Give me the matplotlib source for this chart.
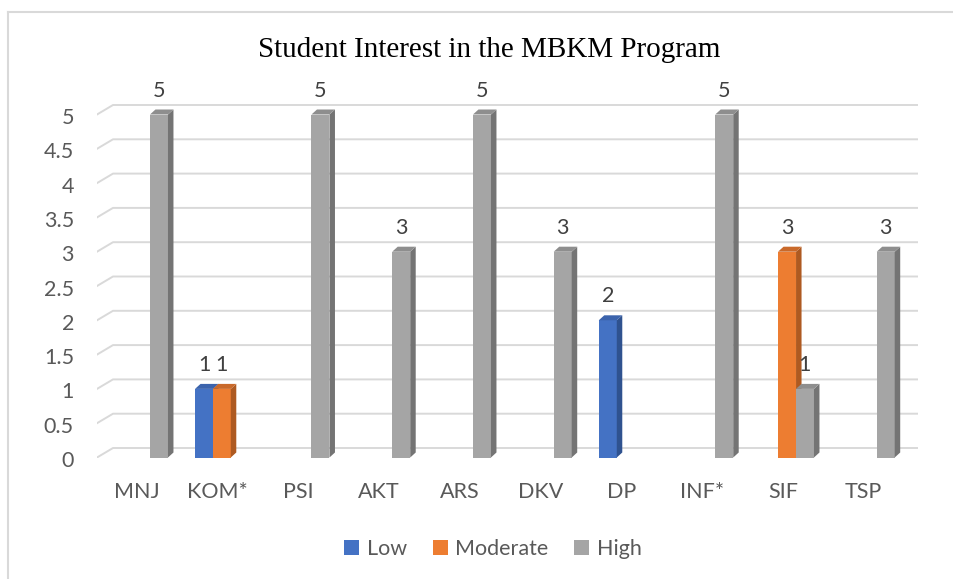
import matplotlib
matplotlib.use("Agg")
import matplotlib.pyplot as plt
import matplotlib.transforms as mtransforms
from matplotlib.patches import Rectangle, Polygon, Patch
from matplotlib.lines import Line2D

# ---- data ----
categories = ['MNJ', 'KOM*', 'PSI', 'AKT', 'ARS', 'DKV', 'DP', 'INF*', 'SIF', 'TSP']
low = [0, 1, 0, 0, 0, 0, 2, 0, 0, 0]
moderate = [0, 1, 0, 0, 0, 0, 0, 0, 3, 0]
high = [5, 0, 5, 3, 5, 3, 0, 5, 1, 3]
series_names = ['Low', 'Moderate', 'High']
y_ticks = [0, 0.5, 1, 1.5, 2, 2.5, 3, 3.5, 4, 4.5, 5]
y_tick_labels = ['0', '0.5', '1', '1.5', '2', '2.5', '3', '3.5', '4', '4.5', '5']

# colours: front, side, top
face = ['#4472C4', '#ED7D31', '#A5A5A5']
side = ['#2F528F', '#AE5A21', '#747474']
top = ['#3B63AC', '#C9692A', '#8E8E8E']

W, H = 954, 579
DPI = 100
PX_X = 80.75      # pixels per category
PX_Y = 68.6       # pixels per unit value
LEFT_PX, RIGHT_PX = 97, 918
ZERO_PX, TOP_PX = 457.5, 70
LABEL0_PX = 137
FS = 15.5

plt.rcParams['font.family'] = ['Lato', 'DejaVu Sans']

fig = plt.figure(figsize=(W / DPI, H / DPI), dpi=DPI)
ax = fig.add_axes([LEFT_PX / W, (H - ZERO_PX) / H,
                   (RIGHT_PX - LEFT_PX) / W, (ZERO_PX - TOP_PX) / H])
x_min = (LEFT_PX - LABEL0_PX) / PX_X
x_max = (RIGHT_PX - LABEL0_PX) / PX_X
ax.set_xlim(x_min, x_max)
ax.set_ylim(0, (ZERO_PX - TOP_PX) / PX_Y)
for s in ax.spines.values():
    s.set_visible(False)

# back wall gridlines (3d look: short diagonal on the side wall)
wall_dx = 16 / PX_X
wall_dy = 9.5 / PX_Y
for yv in y_ticks:
    ax.add_line(Line2D([x_min, x_min + wall_dx, x_max],
                       [yv, yv + wall_dy, yv + wall_dy],
                       color='#D9D9D9', lw=1.4, zorder=0))

# 3d-ish columns
bw = 18 / PX_X
ddx = 5.5 / PX_X
ddy = 5 / PX_Y
offsets = [-0.17, 0.05, 0.272]
series = [low, moderate, high]

for i in range(len(categories)):
    for k, vals in enumerate(series):
        v = vals[i]
        if v <= 0:
            continue
        c = i + offsets[k]
        x0, x1 = c - bw / 2, c + bw / 2
        ax.add_patch(Rectangle((x0, 0), bw, v, facecolor=face[k], edgecolor='none', zorder=2))
        ax.add_patch(Polygon([(x1, 0), (x1 + ddx, ddy), (x1 + ddx, v + ddy), (x1, v)],
                             closed=True, facecolor=side[k], edgecolor='none', zorder=2))
        ax.add_patch(Polygon([(x0, v), (x1, v), (x1 + ddx, v + ddy), (x0 + ddx, v + ddy)],
                             closed=True, facecolor=top[k], edgecolor='none', zorder=2))
        ax.annotate(str(v), (c, v), xytext=(0, 24 * 72 / DPI), textcoords='offset points',
                    ha='center', va='center', fontsize=FS, color='#404040', zorder=3)

ax.set_yticks(y_ticks)
ax.set_yticklabels(y_tick_labels)
ax.set_xticks(range(len(categories)))
ax.set_xticklabels(categories)
ax.tick_params(axis='y', length=0, pad=23 * 72 / DPI, labelsize=FS, labelcolor='#595959')
ax.tick_params(axis='x', length=0, pad=25 * 72 / DPI, labelsize=FS, labelcolor='#595959')
shift = mtransforms.ScaledTranslation(0, -3.5 / DPI, fig.dpi_scale_trans)
for t in ax.get_yticklabels():
    t.set_va('center')
    t.set_transform(t.get_transform() + shift)

# title
fig.text(489.5 / W, 1 - 50 / H, 'Student Interest in the MBKM Program',
         ha='center', va='center', fontsize=21, family='Liberation Serif', color='black')

# legend
handles = [Patch(facecolor=face[k], edgecolor='none') for k in range(3)]
fig.legend(handles, series_names, loc='center', bbox_to_anchor=(493 / W, 1 - 549 / H),
           ncol=3, frameon=False, fontsize=FS, labelcolor='#595959',
           handlelength=0.7, handleheight=0.7, handletextpad=0.35, columnspacing=1.2)

# chart-area border (left and top edges only are visible)
fig.add_artist(Line2D([8 / W, 8 / W], [0, 1 - 12 / H], color='#D9D9D9', lw=1.5))
fig.add_artist(Line2D([8 / W, 1], [1 - 12 / H, 1 - 12 / H], color='#D9D9D9', lw=1.5))

fig.savefig('out.png', dpi=DPI)
